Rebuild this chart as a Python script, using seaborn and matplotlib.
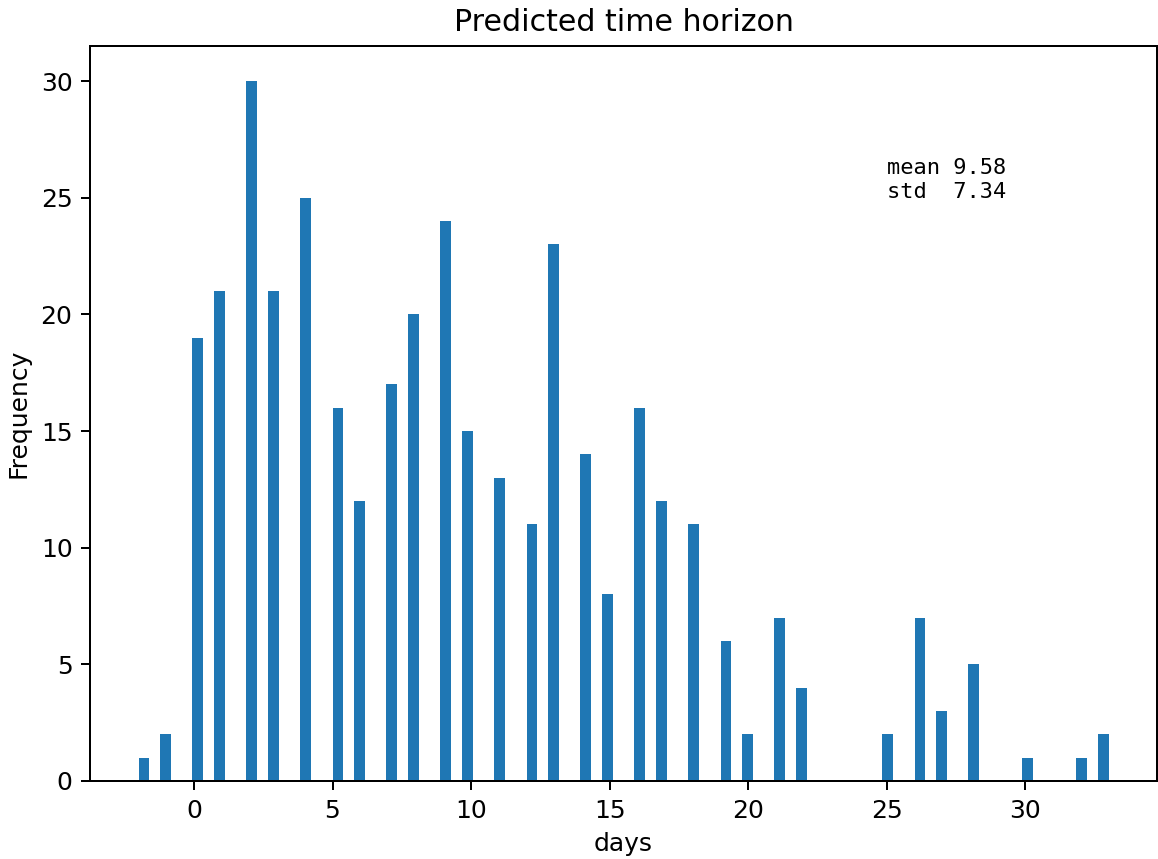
import numpy as np
import seaborn as sns
import matplotlib.pyplot as plt

# predicted horizon (days) and how many times each value occurred
days = [-2, -1, 0, 1, 2, 3, 4, 5, 6, 7, 8, 9, 10, 11, 12, 13, 14, 15, 16, 17,
        18, 19, 20, 21, 22, 25, 26, 27, 28, 30, 32, 33]
counts = [1, 2, 19, 21, 30, 21, 25, 16, 12, 17, 20, 24, 15, 13, 11, 23, 14, 8, 16, 12,
          11, 6, 2, 7, 4, 2, 7, 3, 5, 1, 1, 2]

stats_text = 'mean 9.58\nstd  7.34'

plt.rcParams['font.family'] = ['Liberation Sans Narrow', 'DejaVu Sans']

fig = plt.figure(figsize=(1158 / 180, 859 / 180), dpi=180)
ax = fig.add_axes([90 / 1158, 1 - 781 / 859, 1067 / 1158, 735 / 859])

sns.histplot(x=np.array(days), weights=np.array(counts), bins=90, binrange=(-2, 33),
             color='#1f77b4', alpha=1, linewidth=0, ax=ax)

ax.set_title('Predicted time horizon', fontsize=12)
ax.set_xlabel('days', fontsize=10)
ax.set_ylabel('Frequency', fontsize=10)
ax.tick_params(labelsize=10)
ax.text(25, 25, stats_text, family=['DejaVu Sans Mono'], fontsize=8.8)

fig.savefig('out.png', dpi=180)
